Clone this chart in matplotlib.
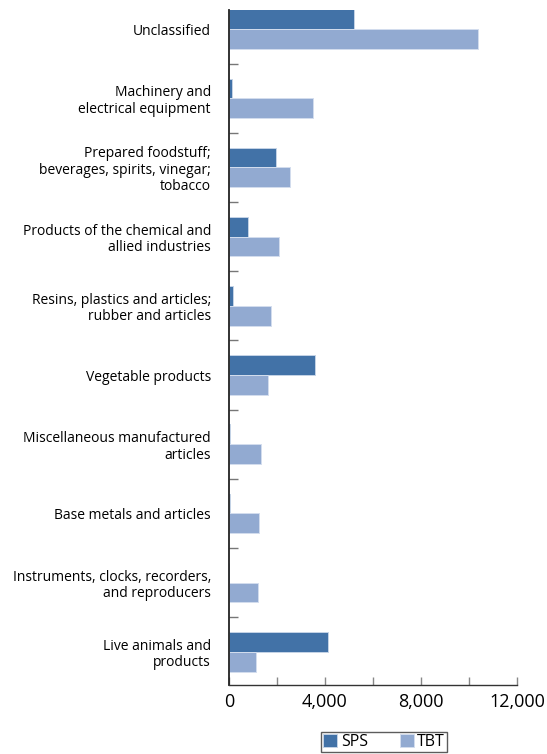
import matplotlib.pyplot as plt
import numpy as np

categories = [
    "Unclassified",
    "Machinery and\nelectrical equipment",
    "Prepared foodstuff;\nbeverages, spirits, vinegar;\ntobacco",
    "Products of the chemical and\nallied industries",
    "Resins, plastics and articles;\nrubber and articles",
    "Vegetable products",
    "Miscellaneous manufactured\narticles",
    "Base metals and articles",
    "Instruments, clocks, recorders,\nand reproducers",
    "Live animals and\nproducts",
]
sps = [5200, 130, 1960, 790, 180, 3600, 50, 40, 20, 4130]
tbt = [10390, 3520, 2560, 2080, 1750, 1640, 1350, 1250, 1200, 1110]
xticks = [0, 4000, 8000, 12000]

plt.rcParams['font.family'] = ['Open Sans', 'DejaVu Sans']

fig = plt.figure(figsize=(5.47, 7.54), dpi=100)
ax = fig.add_axes([229 / 547, 1 - 685 / 754, 288 / 547, 675 / 754])

y = np.arange(len(categories))
h = 0.285
ax.barh(y - h / 2, sps, height=h, color='#4272A7', edgecolor='#c5d3e6',
        linewidth=0.7, label='SPS')
ax.barh(y + h / 2, tbt, height=h, color='#92AAD1', edgecolor='#d3ddee',
        linewidth=0.7, label='TBT')

ax.set_xlim(0, 12000)
ax.set_ylim(9.48, -0.275)

# labels at group centres, tick marks between groups
ax.set_yticks(y)
ax.set_yticklabels(categories, fontsize=10, linespacing=1.15)
ax.tick_params(axis='y', which='major', length=0, pad=13)
ax.set_yticks(y[:-1] + 0.5, minor=True)
ax.tick_params(axis='y', which='minor', direction='in', length=6.5,
               width=1.0, color='#777777')

ax.set_xticks(xticks)
ax.set_xticklabels([f"{v:,}" for v in xticks], fontsize=13)
ax.set_xticks(np.arange(2000, 12000, 4000), minor=True)
ax.tick_params(axis='x', which='both', direction='in', length=6,
               width=1, color='#888888', pad=6)

for s in ['top', 'right']:
    ax.spines[s].set_visible(False)
ax.spines['left'].set_color('#222222')
ax.spines['bottom'].set_color('#333333')
ax.spines['left'].set_linewidth(1.3)
ax.spines['bottom'].set_linewidth(1.0)

leg = fig.legend(loc='center', bbox_to_anchor=(384 / 547, 1 - 742 / 754),
                 ncol=2, fontsize=11.5, frameon=True, fancybox=False,
                 handlelength=0.9, handleheight=0.9, handletextpad=0.2,
                 columnspacing=2.0, borderpad=0.15, borderaxespad=0)
leg.get_frame().set_edgecolor('#333333')
leg.get_frame().set_linewidth(1.0)

fig.savefig('out.png', dpi=100)
